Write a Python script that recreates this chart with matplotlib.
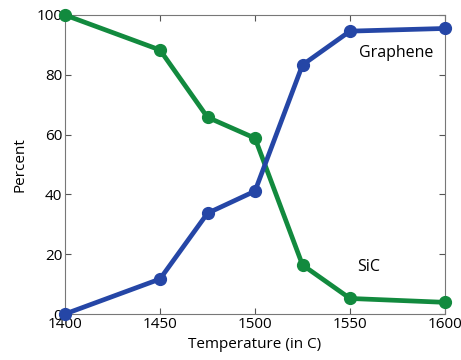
import matplotlib
matplotlib.use("Agg")
import matplotlib.pyplot as plt

plt.rcParams['font.family'] = ['Open Sans', 'DejaVu Sans']

temps = [1400, 1450, 1475, 1500, 1525, 1550, 1600]
graphene = [0, 11.7, 33.7, 41.1, 83.3, 94.6, 95.5]
sic = [100, 88.3, 65.8, 58.8, 16.4, 5.2, 3.9]

blue = '#2546a6'
green = '#128a3e'

fig = plt.figure(figsize=(4.61, 3.6), dpi=100)
ax = fig.add_axes([65/461, 1-314/360, 380/461, 299/360])

ax.plot(temps, sic, color=green, lw=3.4, marker='o', ms=8.5, clip_on=False, zorder=3)
ax.plot(temps, graphene, color=blue, lw=3.4, marker='o', ms=8.5, clip_on=False, zorder=4)

ax.text(1555, 87.3, 'Graphene', fontsize=11.5, va='center', ha='left')
ax.text(1554, 15.7, 'SiC', fontsize=11.5, va='center', ha='left')

ax.set_xlim(1400, 1600)
ax.set_ylim(0, 100)
ax.set_xticks([1400, 1450, 1500, 1550, 1600])
ax.set_yticks([0, 20, 40, 60, 80, 100])
ax.tick_params(direction='in', top=True, right=True, labelsize=11, length=4,
               color='#555555', pad=2)
for s in ax.spines.values():
    s.set_color('#777777')
    s.set_linewidth(0.8)

ax.set_xlabel('Temperature (in C)', fontsize=11, labelpad=4)
ax.set_ylabel('Percent', fontsize=11, labelpad=6)

fig.savefig('out.png', dpi=100)
